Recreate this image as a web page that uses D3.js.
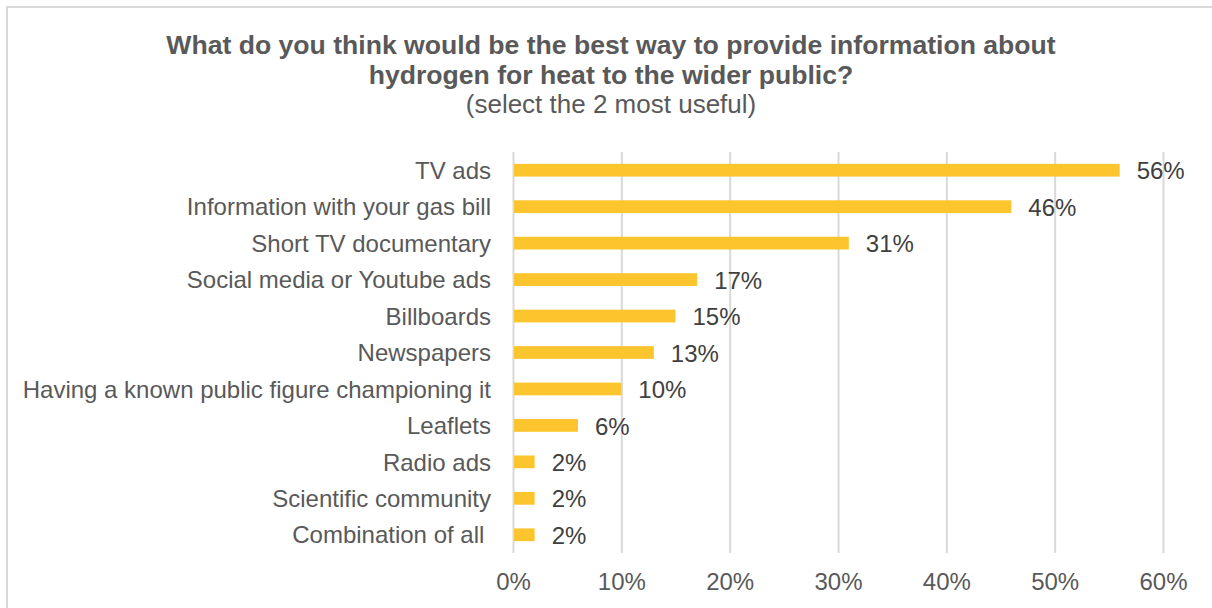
<!DOCTYPE html>
<html>
<head>
<meta charset="utf-8">
<script src="https://cdn.jsdelivr.net/npm/d3@7"></script>
<style>
  html, body { margin: 0; padding: 0; background: #ffffff; }
  svg { display: block; font-family: "Liberation Sans", Arial, sans-serif; }
  text { white-space: pre; }
</style>
</head>
<body>
<svg id="chart" width="1212" height="608"></svg>
<script>
// Survey answers, shares in percent
const categories = [
  "TV ads",
  "Information with your gas bill",
  "Short TV documentary",
  "Social media or Youtube ads",
  "Billboards",
  "Newspapers",
  "Having a known public figure championing it",
  "Leaflets",
  "Radio ads",
  "Scientific community",
  "Combination of all "
];
const shares = [56, 46, 31, 17, 15, 13, 10, 6, 2, 2, 2];
const tickValues = [0, 10, 20, 30, 40, 50, 60];
const titleLines = [
  "What do you think would be the best way to provide information about",
  "hydrogen for heat to the wider public?"
];
const subtitle = "(select the 2 most useful)";

const svg = d3.select("#chart");
const W = 1212, H = 608;

// chart area border (continues past the right and bottom edges)
svg.append("rect")
  .attr("x", 7).attr("y", 7)
  .attr("width", W + 20).attr("height", H + 20)
  .attr("fill", "#ffffff")
  .attr("stroke", "#d9d9d9")
  .attr("stroke-width", 2);

const x = d3.scaleLinear().domain([0, 60]).range([513, 1163]);
const y = d3.scaleBand().domain(categories).range([152, 553]).paddingInner(0.65).paddingOuter(0.325);

// title
const cx = 611;
svg.append("g").selectAll("text").data(titleLines).join("text")
  .attr("x", cx)
  .attr("y", (d, i) => 54 + i * 30)
  .attr("text-anchor", "middle")
  .attr("font-size", 26.6)
  .attr("font-weight", "bold")
  .attr("fill", "#595959")
  .text(d => d);
svg.append("text")
  .attr("x", cx).attr("y", 113)
  .attr("text-anchor", "middle")
  .attr("font-size", 26)
  .attr("fill", "#595959")
  .text(subtitle);

// vertical gridlines
const grid = svg.append("g")
  .attr("transform", `translate(0,553)`)
  .call(d3.axisBottom(x).tickValues(tickValues).tickSize(-(553 - 152)).tickFormat(""));
grid.select(".domain").remove();
grid.selectAll(".tick line").attr("stroke", "#d9d9d9").attr("stroke-width", 2);

// x tick labels
const xAxis = svg.append("g")
  .attr("transform", `translate(0,553)`)
  .call(d3.axisBottom(x).tickValues(tickValues).tickSize(0).tickPadding(0).tickFormat(d => d + "%"));
xAxis.select(".domain").remove();
xAxis.selectAll(".tick text")
  .attr("y", 37).attr("dy", 0)
  .attr("font-size", 24)
  .attr("font-family", "Liberation Sans, Arial, sans-serif")
  .attr("fill", "#595959");

// category axis
const yAxis = svg.append("g")
  .attr("transform", `translate(${x(0)},0)`)
  .call(d3.axisLeft(y).tickSize(0).tickPadding(22));
yAxis.select(".domain").remove();
yAxis.selectAll(".tick text")
  .attr("font-size", 24)
  .attr("font-family", "Liberation Sans, Arial, sans-serif")
  .attr("fill", "#595959")
  .attr("dy", "0.36em");

// bars
svg.append("g").selectAll("rect").data(categories).join("rect")
  .attr("x", x(0) + 1)
  .attr("y", d => y(d))
  .attr("width", (d, i) => x(shares[i]) - x(0) - 1)
  .attr("height", y.bandwidth())
  .attr("fill", "#fdc52d");

// value labels
svg.append("g").selectAll("text").data(categories).join("text")
  .attr("x", (d, i) => x(shares[i]) + 17)
  .attr("y", d => y(d) + y.bandwidth() / 2)
  .attr("dy", "0.38em")
  .attr("font-size", 24)
  .attr("fill", "#404040")
  .text((d, i) => shares[i] + "%");
</script>
</body>
</html>
